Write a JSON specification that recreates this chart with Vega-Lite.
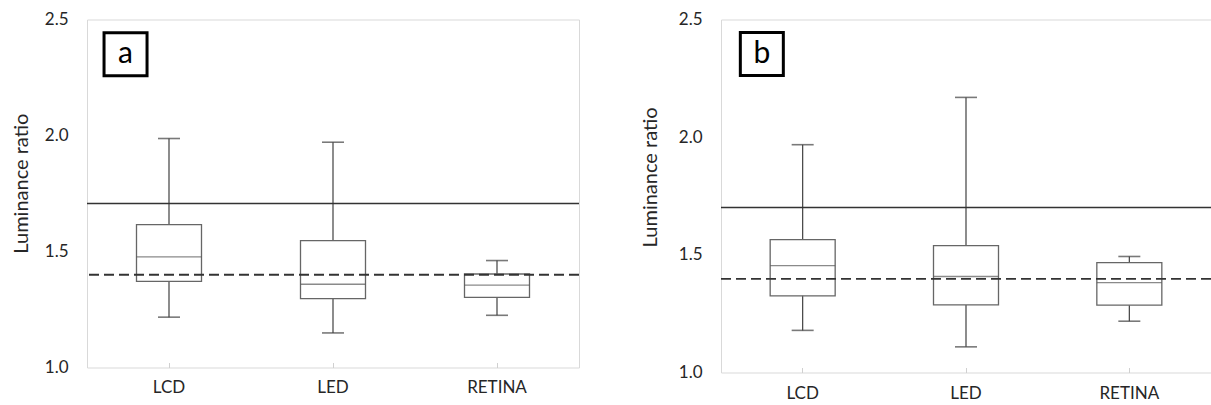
{
  "$schema": "https://vega.github.io/schema/vega-lite/v6.json",
  "padding": {"left": 10, "top": 9.5, "right": 0, "bottom": 0},
  "background": "white",
  "datasets": {
    "boxA": [
      {"display": "LCD", "min": 1.217, "q1": 1.371, "median": 1.477, "q3": 1.616, "max": 1.987},
      {"display": "LED", "min": 1.149, "q1": 1.297, "median": 1.359, "q3": 1.547, "max": 1.971},
      {"display": "RETINA", "min": 1.225, "q1": 1.302, "median": 1.355, "q3": 1.403, "max": 1.461}
    ],
    "boxB": [
      {"display": "LCD", "min": 1.179, "q1": 1.326, "median": 1.454, "q3": 1.565, "max": 1.968},
      {"display": "LED", "min": 1.109, "q1": 1.287, "median": 1.408, "q3": 1.539, "max": 2.169},
      {"display": "RETINA", "min": 1.218, "q1": 1.286, "median": 1.382, "q3": 1.467, "max": 1.493}
    ],
    "refA": [
      {"value": 1.707, "kind": "solid"},
      {"value": 1.40, "kind": "dashed"}
    ],
    "refB": [
      {"value": 1.701, "kind": "solid"},
      {"value": 1.398, "kind": "dashed"}
    ],
    "labelA": [{"display": "LCD", "y": 2.35, "label": "a"}],
    "labelB": [{"display": "LCD", "y": 2.353, "label": "b"}]
  },
  "spacing": 142,
  "bounds": "flush",
  "hconcat": [
    {
      "width": 492,
      "height": 348,
      "layer": [
        {
          "data": {"name": "boxA"},
          "mark": {"type": "rule", "color": "#404040", "strokeWidth": 1.2},
          "encoding": {
            "x": {"field": "display", "type": "nominal", "sort": ["LCD", "LED", "RETINA"], "scale": {"paddingInner": 0, "paddingOuter": 0},
              "axis": {"title": null, "labelAngle": 0, "domain": false, "grid": false, "ticks": true, "tickSize": -5, "tickColor": "#d0d0d0", "labelPadding": 17, "labelFontSize": 17, "labelColor": "#262626", "labelFont": "Lato"}},
            "y": {"field": "min", "type": "quantitative", "scale": {"domain": [1, 2.5], "nice": false, "zero": false},
              "axis": {"title": "Luminance ratio", "values": [1, 1.5, 2, 2.5], "format": ".1f", "grid": false, "ticks": false, "domain": false, "labelPadding": 19, "labelFontSize": 17, "labelColor": "#262626", "labelFont": "Lato", "titleFont": "Lato", "titleFontSize": 20, "titleFontWeight": "normal", "titleColor": "#262626", "titleX": -60, "titleY": 163.7, "titleBaseline": "alphabetic", "titleAngle": 270}},
            "y2": {"field": "max"}
          }
        },
        {
          "data": {"name": "boxA"},
          "mark": {"type": "tick", "color": "#404040", "size": 22, "thickness": 1.6},
          "encoding": {
            "x": {"field": "display", "type": "nominal", "sort": ["LCD", "LED", "RETINA"]},
            "y": {"field": "min", "type": "quantitative"}
          }
        },
        {
          "data": {"name": "boxA"},
          "mark": {"type": "tick", "color": "#404040", "size": 22, "thickness": 1.6},
          "encoding": {
            "x": {"field": "display", "type": "nominal", "sort": ["LCD", "LED", "RETINA"]},
            "y": {"field": "max", "type": "quantitative"}
          }
        },
        {
          "data": {"name": "boxA"},
          "mark": {"type": "bar", "size": 65, "fill": "white", "stroke": "#666666", "strokeWidth": 1.3},
          "encoding": {
            "x": {"field": "display", "type": "nominal", "sort": ["LCD", "LED", "RETINA"]},
            "y": {"field": "q1", "type": "quantitative"},
            "y2": {"field": "q3"}
          }
        },
        {
          "data": {"name": "boxA"},
          "mark": {"type": "tick", "color": "#595959", "size": 65, "thickness": 1.4},
          "encoding": {
            "x": {"field": "display", "type": "nominal", "sort": ["LCD", "LED", "RETINA"]},
            "y": {"field": "median", "type": "quantitative"}
          }
        },
        {
          "data": {"name": "refA"},
          "mark": {"type": "rule", "color": "#333333"},
          "encoding": {
            "y": {"field": "value", "type": "quantitative"},
            "strokeDash": {"field": "kind", "type": "nominal", "scale": {"domain": ["solid", "dashed"], "range": [[1, 0], [10, 5]]}, "legend": null},
            "strokeWidth": {"field": "kind", "type": "nominal", "scale": {"domain": ["solid", "dashed"], "range": [1.4, 1.9]}, "legend": null}
          }
        },
        {
          "data": {"name": "labelA"},
          "mark": {"type": "point", "shape": "square", "size": 1849, "filled": false, "fill": "white", "fillOpacity": 1, "stroke": "black", "strokeWidth": 3, "opacity": 1},
          "encoding": {
            "x": {"field": "display", "type": "nominal", "sort": ["LCD", "LED", "RETINA"], "bandPosition": 0.235},
            "y": {"field": "y", "type": "quantitative"}
          }
        },
        {
          "data": {"name": "labelA"},
          "mark": {"type": "text", "font": "Lato", "fontSize": 30, "color": "black", "align": "center", "baseline": "middle"},
          "encoding": {
            "x": {"field": "display", "type": "nominal", "sort": ["LCD", "LED", "RETINA"], "bandPosition": 0.235},
            "y": {"field": "y", "type": "quantitative"},
            "text": {"field": "label"}
          }
        }
      ]
    },
    {
      "width": 490,
      "height": 353,
      "layer": [
        {
          "data": {"name": "boxB"},
          "mark": {"type": "rule", "color": "#404040", "strokeWidth": 1.2},
          "encoding": {
            "x": {"field": "display", "type": "nominal", "sort": ["LCD", "LED", "RETINA"], "scale": {"domain": ["LCD", "LED", "RETINA"], "paddingInner": 0, "paddingOuter": 0},
              "axis": {"title": null, "labelAngle": 0, "domain": false, "grid": false, "ticks": true, "tickSize": -5, "tickColor": "#d0d0d0", "labelPadding": 18, "labelFontSize": 17, "labelColor": "#262626", "labelFont": "Lato"}},
            "y": {"field": "min", "type": "quantitative", "scale": {"domain": [1, 2.5], "nice": false, "zero": false},
              "axis": {"title": "Luminance ratio", "values": [1, 1.5, 2, 2.5], "format": ".1f", "grid": false, "ticks": false, "domain": false, "labelPadding": 19, "labelFontSize": 17, "labelColor": "#262626", "labelFont": "Lato", "titleFont": "Lato", "titleFontSize": 20, "titleFontWeight": "normal", "titleColor": "#262626", "titleX": -65, "titleY": 157.4, "titleBaseline": "alphabetic", "titleAngle": 270}},
            "y2": {"field": "max"}
          }
        },
        {
          "data": {"name": "boxB"},
          "mark": {"type": "tick", "color": "#404040", "size": 22, "thickness": 1.6},
          "encoding": {
            "x": {"field": "display", "type": "nominal", "sort": ["LCD", "LED", "RETINA"]},
            "y": {"field": "min", "type": "quantitative"}
          }
        },
        {
          "data": {"name": "boxB"},
          "mark": {"type": "tick", "color": "#404040", "size": 22, "thickness": 1.6},
          "encoding": {
            "x": {"field": "display", "type": "nominal", "sort": ["LCD", "LED", "RETINA"]},
            "y": {"field": "max", "type": "quantitative"}
          }
        },
        {
          "data": {"name": "boxB"},
          "mark": {"type": "bar", "size": 65, "fill": "white", "stroke": "#666666", "strokeWidth": 1.3},
          "encoding": {
            "x": {"field": "display", "type": "nominal", "sort": ["LCD", "LED", "RETINA"]},
            "y": {"field": "q1", "type": "quantitative"},
            "y2": {"field": "q3"}
          }
        },
        {
          "data": {"name": "boxB"},
          "mark": {"type": "tick", "color": "#595959", "size": 65, "thickness": 1.4},
          "encoding": {
            "x": {"field": "display", "type": "nominal", "sort": ["LCD", "LED", "RETINA"]},
            "y": {"field": "median", "type": "quantitative"}
          }
        },
        {
          "data": {"name": "refB"},
          "mark": {"type": "rule", "color": "#333333"},
          "encoding": {
            "y": {"field": "value", "type": "quantitative"},
            "strokeDash": {"field": "kind", "type": "nominal", "scale": {"domain": ["solid", "dashed"], "range": [[1, 0], [10, 5]]}, "legend": null},
            "strokeWidth": {"field": "kind", "type": "nominal", "scale": {"domain": ["solid", "dashed"], "range": [1.4, 1.9]}, "legend": null}
          }
        },
        {
          "data": {"name": "labelB"},
          "mark": {"type": "point", "shape": "square", "size": 1849, "filled": false, "fill": "white", "fillOpacity": 1, "stroke": "black", "strokeWidth": 3, "opacity": 1},
          "encoding": {
            "x": {"field": "display", "type": "nominal", "sort": ["LCD", "LED", "RETINA"], "bandPosition": 0.25},
            "y": {"field": "y", "type": "quantitative"}
          }
        },
        {
          "data": {"name": "labelB"},
          "mark": {"type": "text", "font": "Lato", "fontSize": 30, "color": "black", "align": "center", "baseline": "middle"},
          "encoding": {
            "x": {"field": "display", "type": "nominal", "sort": ["LCD", "LED", "RETINA"], "bandPosition": 0.25},
            "y": {"field": "y", "type": "quantitative"},
            "text": {"field": "label"}
          }
        }
      ]
    }
  ],
  "config": {
    "font": "Lato",
    "view": {"stroke": "#d9d9d9", "strokeWidth": 1},
    "concat": {"spacing": 142}
  }
}
